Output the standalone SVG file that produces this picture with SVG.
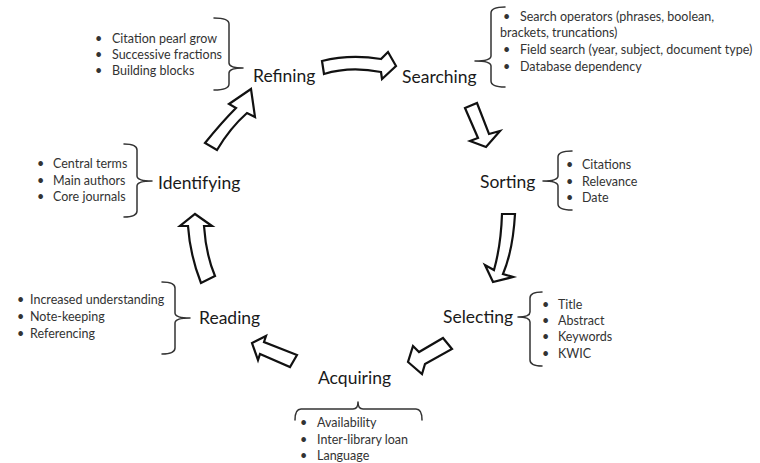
<svg xmlns="http://www.w3.org/2000/svg" width="760" height="463" viewBox="0 0 760 463">
<style>
.lbl{font-family:Lato,"Open Sans","Liberation Sans",sans-serif;font-size:17.5px;fill:#1a1a1a}
.it{font-family:Lato,"Open Sans","Liberation Sans",sans-serif;font-size:12.5px;fill:#333}
.br{fill:none;stroke:#333;stroke-width:1.5;stroke-linecap:round;stroke-linejoin:round}
.ar{fill:#fff;stroke:#111;stroke-width:2.2;stroke-linejoin:miter}
</style>
<rect width="760" height="463" fill="#fff"/>
<g id="connectors">
<path class="ar" d="M322 61 Q350 54 381 59 L388 52 L396 66 L382 79 L381 72 Q350 66 324 74 Z"/>
<path class="ar" d="M465 108 L477 103 L489 134 L500 131 L486 147 L470 141 L478 138 Z"/>
<path class="ar" d="M502 214 L515 214 Q513 250 503 274 L513 277 L493 282 L485 265 L494 270 Q501 245 502 214 Z"/>
<path class="ar" d="M443 338 L452 349 L425 364 L422 374 L408 362 L413 346 L419 352 Z"/>
<path class="ar" d="M297 355 L290 367 L260 354 L258 360 L252 343 L266 336 L264 342 Z"/>
<path class="ar" d="M195 214 L212 226 L204 226 Q206 255 215 276 L201 283 Q190 255 188 226 L180 226 Z"/>
<path class="ar" d="M205 143 Q222 122 236 108 L229 104 L251 89 L255 117 L247 113 Q230 128 217 150 Z"/>
</g>
<g id="refining">
<text class="lbl" x="253" y="82">Refining</text>
<path class="br" d="M214 18 Q229 18 229 24 L229 63 Q229 68 243 68 Q229 68 229 73 L229 84 Q229 90 214 90"/>
<text class="it" x="95" y="43">•</text><text class="it" x="112" y="43">Citation pearl grow</text>
<text class="it" x="95" y="59">•</text><text class="it" x="112" y="59">Successive fractions</text>
<text class="it" x="95" y="75">•</text><text class="it" x="112" y="75">Building blocks</text>
</g>
<g id="searching">
<text class="lbl" x="402" y="83">Searching</text>
<path class="br" d="M505 7 Q491 7 491 13 L491 56 Q491 61 475 61 Q491 61 491 66 L491 81 Q491 87 505 87"/>
<text class="it" x="503" y="21">•</text><text class="it" x="520" y="21">Search operators (phrases, boolean,</text>
<text class="it" x="500" y="37">brackets, truncations)</text>
<text class="it" x="503" y="54">•</text><text class="it" x="520" y="54">Field search (year, subject, document type)</text>
<text class="it" x="503" y="71">•</text><text class="it" x="520" y="71">Database dependency</text>
</g>
<g id="sorting">
<text class="lbl" x="480" y="188">Sorting</text>
<path class="br" d="M572 151 Q558 151 558 157 L558 176 Q558 181 543 181 Q558 181 558 186 L558 204 Q558 210 572 210"/>
<text class="it" x="566" y="169">•</text><text class="it" x="582" y="169">Citations</text>
<text class="it" x="566" y="186">•</text><text class="it" x="582" y="186">Relevance</text>
<text class="it" x="566" y="202">•</text><text class="it" x="582" y="202">Date</text>
</g>
<g id="selecting">
<text class="lbl" x="443" y="323">Selecting</text>
<path class="br" d="M542 292 Q530 292 530 298 L530 312 Q530 317 518 317 Q530 317 530 322 L530 360 Q530 366 542 366"/>
<text class="it" x="542" y="309">•</text><text class="it" x="558" y="309">Title</text>
<text class="it" x="542" y="325">•</text><text class="it" x="558" y="325">Abstract</text>
<text class="it" x="542" y="341">•</text><text class="it" x="558" y="341">Keywords</text>
<text class="it" x="542" y="358">•</text><text class="it" x="558" y="358">KWIC</text>
</g>
<g id="acquiring">
<text class="lbl" x="318" y="384">Acquiring</text>
<path class="br" d="M295 420 Q295 409 301 409 L353 409 Q358 409 358 402 Q358 409 363 409 L416 409 Q422 409 422 420"/>
<text class="it" x="300" y="427">•</text><text class="it" x="317" y="427">Availability</text>
<text class="it" x="300" y="444">•</text><text class="it" x="317" y="444">Inter-library loan</text>
<text class="it" x="300" y="460">•</text><text class="it" x="317" y="460">Language</text>
</g>
<g id="reading">
<text class="lbl" x="199" y="324">Reading</text>
<path class="br" d="M162 282 Q175 282 175 288 L175 313 Q175 318 190 318 Q175 318 175 323 L175 348 Q175 354 162 354"/>
<text class="it" x="17" y="304">•</text><text class="it" x="30" y="304">Increased understanding</text>
<text class="it" x="17" y="321">•</text><text class="it" x="30" y="321">Note-keeping</text>
<text class="it" x="17" y="338">•</text><text class="it" x="30" y="338">Referencing</text>
</g>
<g id="identifying">
<text class="lbl" x="158" y="189">Identifying</text>
<path class="br" d="M124 144 Q137 144 137 150 L137 176 Q137 181 152 181 Q137 181 137 186 L137 211 Q137 217 124 217"/>
<text class="it" x="37" y="168">•</text><text class="it" x="53" y="168">Central terms</text>
<text class="it" x="37" y="185">•</text><text class="it" x="53" y="185">Main authors</text>
<text class="it" x="37" y="201">•</text><text class="it" x="53" y="201">Core journals</text>
</g>
</svg>
